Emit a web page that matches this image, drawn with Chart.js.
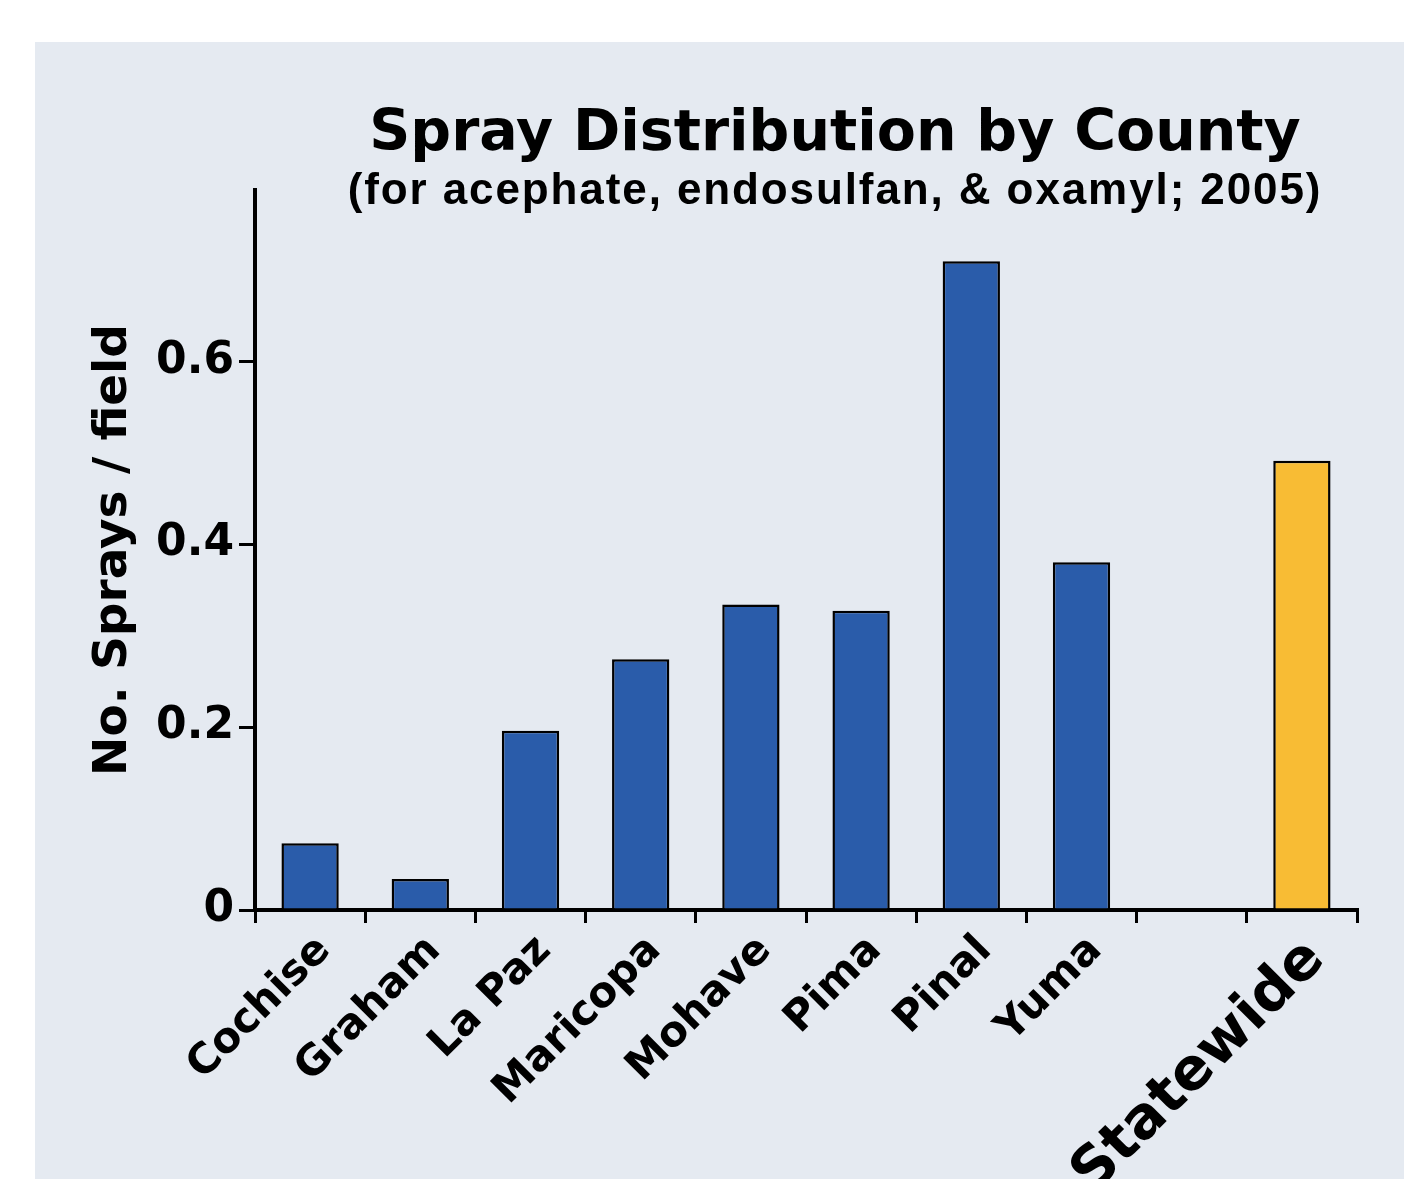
<!DOCTYPE html>
<html>
<head>
<meta charset="utf-8">
<script src="https://cdn.jsdelivr.net/npm/chart.js@4.4.1/dist/chart.umd.min.js"></script>
<style>
  html, body { margin: 0; padding: 0; background: #ffffff; }
  #wrap { position: relative; width: 1404px; height: 1179px; overflow: hidden; }
  #panel { position: absolute; left: 35px; top: 42px; right: 0; bottom: 0; background: #e5eaf1; }
  #c { position: absolute; left: 0; top: 0; }
</style>
</head>
<body>
<div id="wrap">
  <div id="panel"></div>
  <canvas id="c" width="1404" height="1179"></canvas>
</div>
<script>
const counties = ["Cochise", "Graham", "La Paz", "Maricopa", "Mohave", "Pima", "Pinal", "Yuma", "", "Statewide"];
const spraysPerField = [0.073, 0.034, 0.196, 0.274, 0.334, 0.327, 0.709, 0.380, null, 0.491];
const yTicks = [0, 0.2, 0.4, 0.6];
const barColors = ["#2a5caa", "#2a5caa", "#2a5caa", "#2a5caa", "#2a5caa", "#2a5caa", "#2a5caa", "#2a5caa", "#2a5caa", "#f8bc34"];

const titleText = "Spray Distribution by County";
const subtitleText = "(for acephate, endosulfan, & oxamyl; 2005)";

// titulo desenhado a mao, pq o plugin de titulo centraliza no canvas inteiro
const titulosPlugin = {
    id: "titulos",
    afterDraw(chart) {
        const { ctx, chartArea } = chart;
        const cx = (chartArea.left + chartArea.right) / 2 + 29;
        ctx.save();
        ctx.fillStyle = "#000";
        ctx.textAlign = "center";
        ctx.textBaseline = "alphabetic";
        ctx.font = "bold 57px 'DejaVu Sans'";
        ctx.fillText(titleText, cx, 150);
        ctx.font = "bold 44px 'Liberation Sans'";
        ctx.letterSpacing = "1.9px";
        ctx.fillText(subtitleText, cx, 204);
        ctx.restore();
    }
};

const ctx = document.getElementById("c");
new Chart(ctx, {
    type: "bar",
    data: {
        labels: counties,
        datasets: [{
            label: "No. Sprays / field",
            data: spraysPerField,
            backgroundColor: barColors,
            borderColor: "#000",
            borderWidth: 2.5,
            borderSkipped: "bottom",
            barPercentage: 0.52,
            categoryPercentage: 1
        }]
    },
    options: {
        responsive: false,
        animation: false,
        events: [],
        layout: { padding: { top: 190, bottom: 0, left: 86, right: 47 } },
        plugins: {
            legend: { display: false },
            tooltip: { enabled: false }
        },
        scales: {
            x: {
                offset: true,
                grid: {
                    offset: true,
                    drawOnChartArea: false,
                    drawTicks: true,
                    tickLength: 13,
                    color: "#000",
                    lineWidth: 3
                },
                border: { display: true, color: "#000", width: 4 },
                ticks: {
                    color: "#000",
                    minRotation: 45,
                    maxRotation: 45,
                    autoSkip: false,
                    padding: 3,
                    labelOffset: 14,
                    font: c => c.index === 9
                        ? { family: "'DejaVu Sans'", weight: "bold", size: 58 }
                        : { family: "'DejaVu Sans'", weight: "bold", size: 42 }
                },
                afterFit: s => { s.height = 269; }
            },
            y: {
                min: 0,
                max: 0.787,
                afterBuildTicks: s => { s.ticks = yTicks.map(v => ({ value: v })); },
                grid: {
                    drawOnChartArea: false,
                    drawTicks: true,
                    tickLength: 16,
                    color: "#000",
                    lineWidth: 3
                },
                border: { display: true, color: "#000", width: 4 },
                ticks: {
                    color: "#000",
                    padding: 5,
                    font: { family: "'DejaVu Sans'", weight: "bold", size: 44 },
                    callback: v => v === 0 ? "0" : v.toFixed(1)
                },
                title: {
                    display: true,
                    text: "No. Sprays / field",
                    color: "#000",
                    padding: 0,
                    font: { family: "'DejaVu Sans'", weight: "bold", size: 47 }
                },
                afterFit: s => { s.width = 169; }
            }
        }
    },
    plugins: [titulosPlugin]
});
</script>
</body>
</html>
